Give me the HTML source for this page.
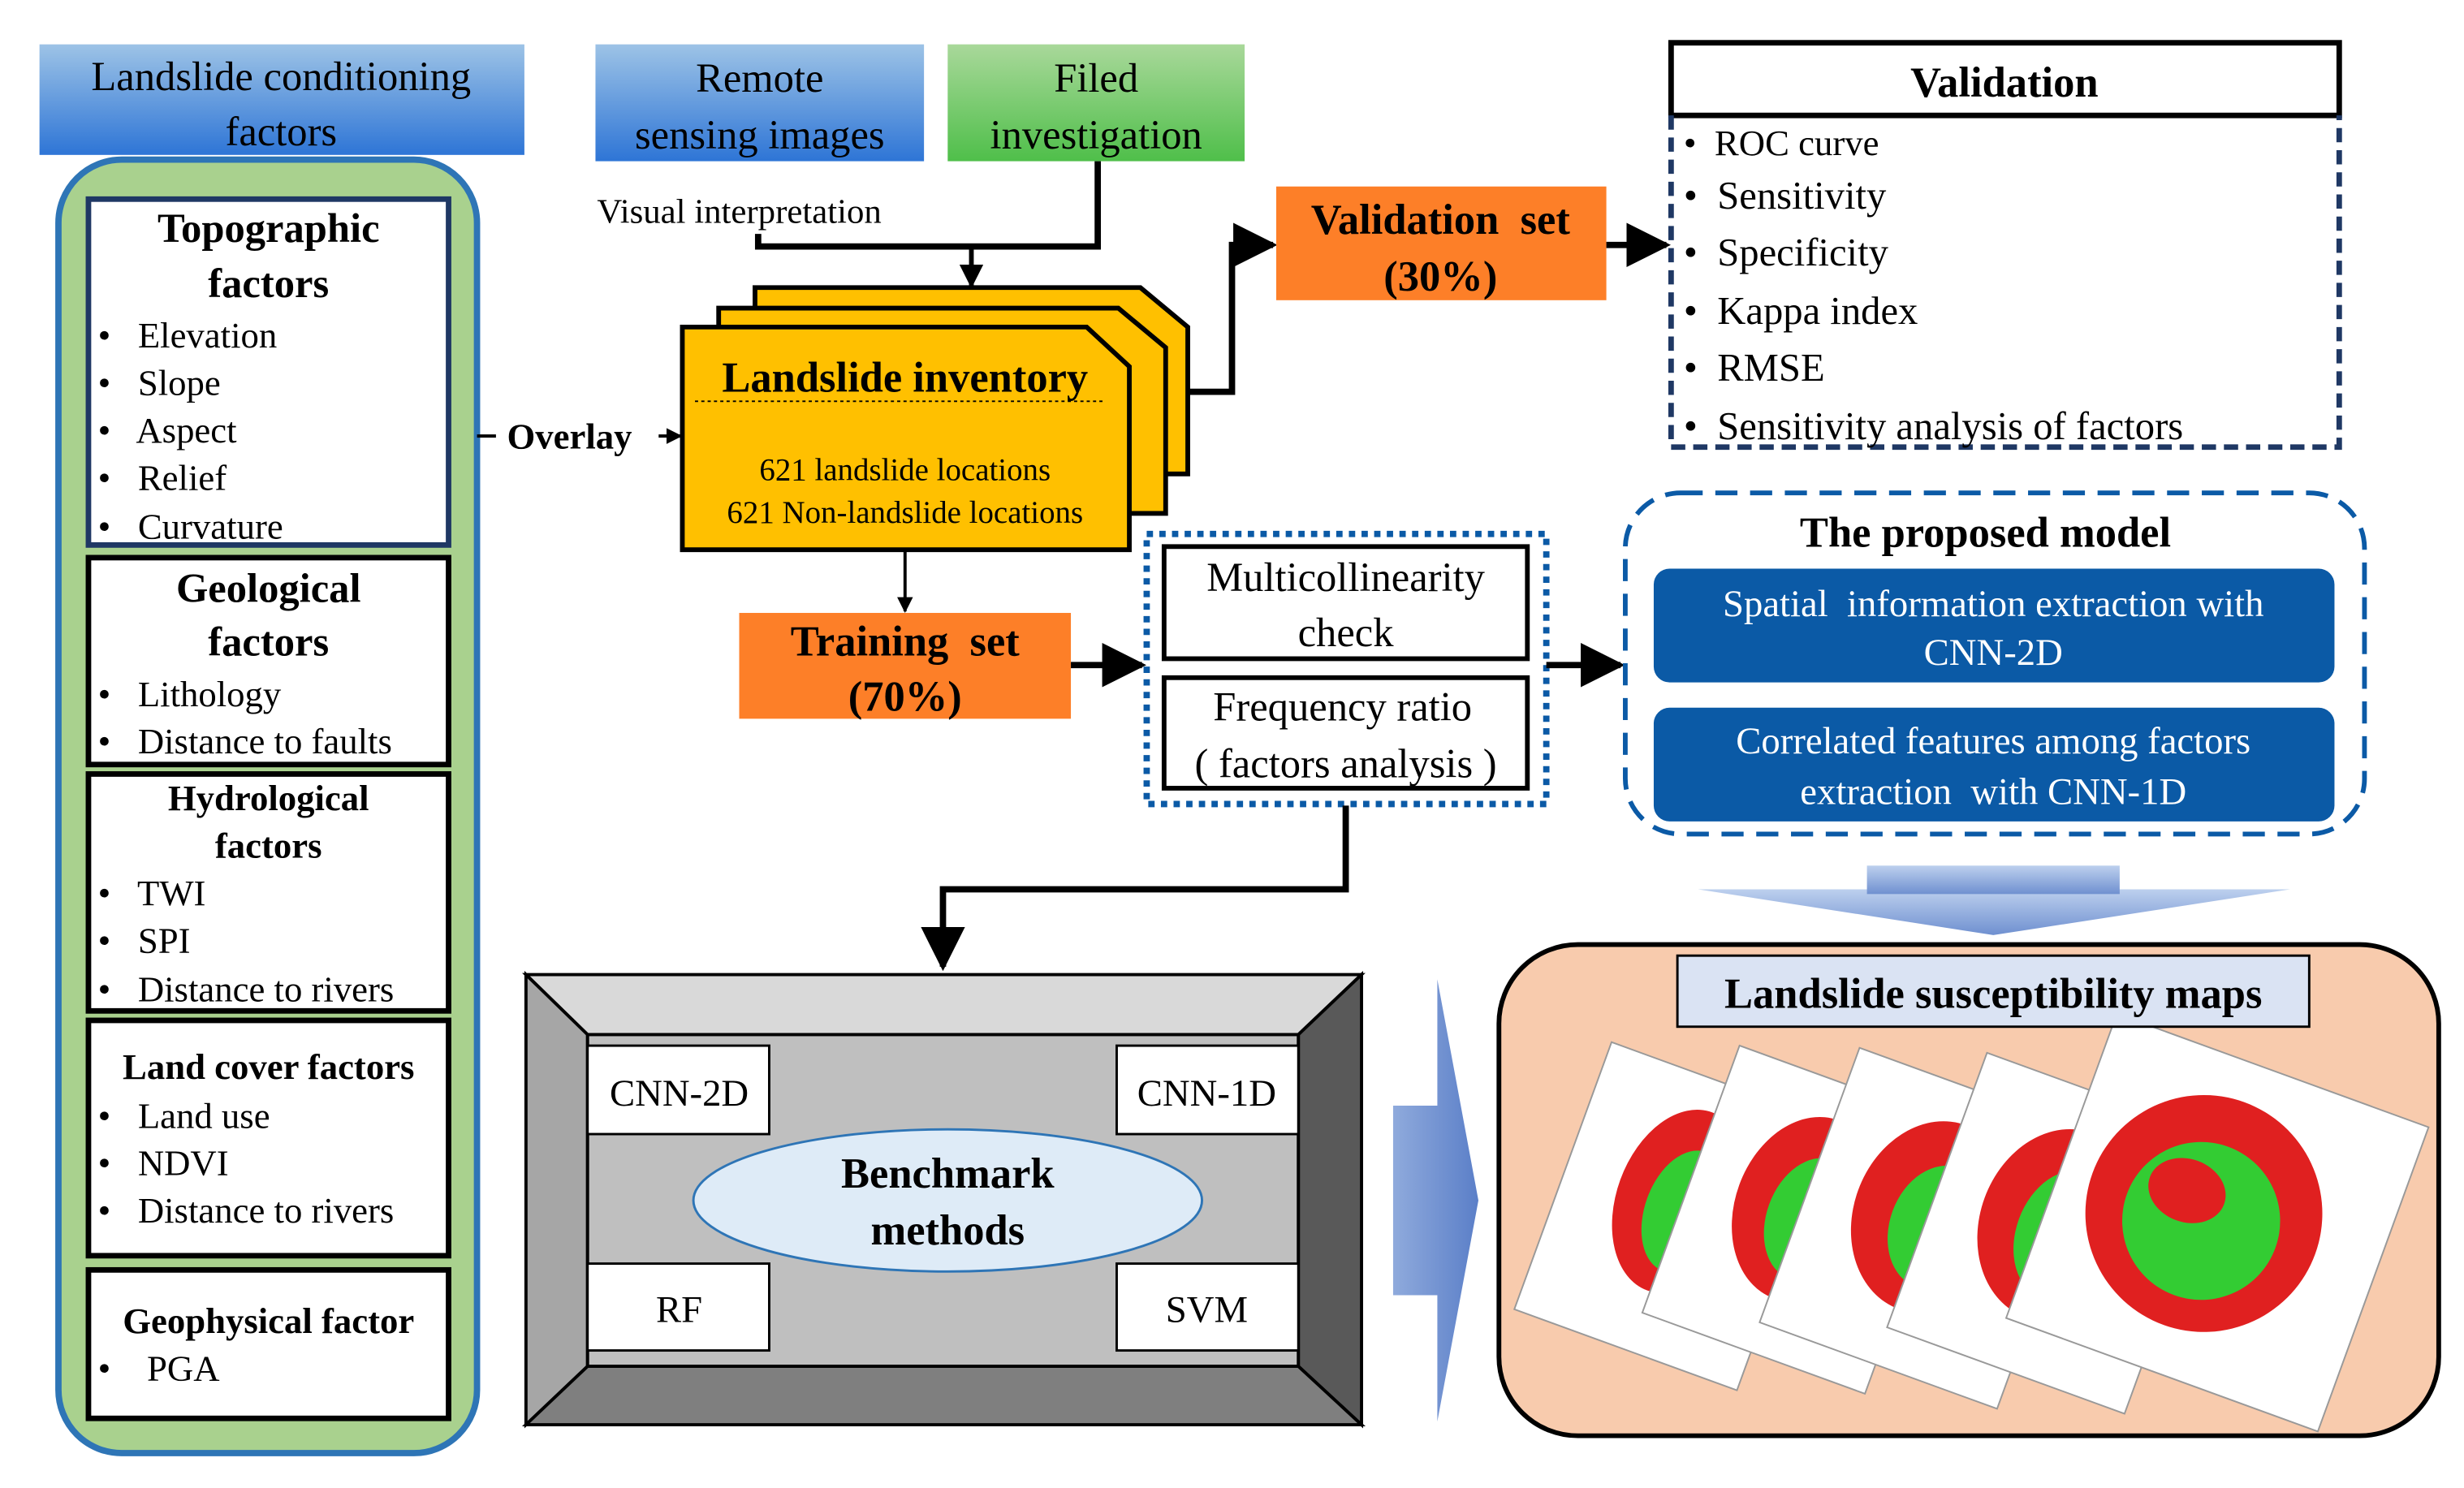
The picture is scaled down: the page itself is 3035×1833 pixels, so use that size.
<!DOCTYPE html>
<html><head><meta charset="utf-8"><style>
html,body{margin:0;padding:0;background:#fff;}
svg{display:block;}
text{font-family:"Liberation Serif",serif;fill:#000;white-space:pre;}
</style></head><body>
<svg width="3035" height="1833" viewBox="0 0 1560 942" xmlns="http://www.w3.org/2000/svg" xml:space="preserve">
<defs>
<linearGradient id="gb" x1="0" y1="0" x2="0" y2="1"><stop offset="0" stop-color="#9dc3e6"/><stop offset="1" stop-color="#2e75d6"/></linearGradient>
<linearGradient id="gg" x1="0" y1="0" x2="0" y2="1"><stop offset="0" stop-color="#a9d89a"/><stop offset="1" stop-color="#4fbf4a"/></linearGradient>
<linearGradient id="ga" x1="0" y1="0" x2="0" y2="1"><stop offset="0" stop-color="#bdd0ee"/><stop offset="1" stop-color="#6f90d0"/></linearGradient>
<linearGradient id="gr" x1="0" y1="0" x2="1" y2="0"><stop offset="0" stop-color="#8faadc"/><stop offset="1" stop-color="#5b7fc8"/></linearGradient>
<marker id="ar" viewBox="0 0 10 10" refX="9" refY="5" markerWidth="5" markerHeight="5" orient="auto"><path d="M0,0L10,5L0,10z" fill="#000"/></marker>
<marker id="as" viewBox="0 0 10 10" refX="9" refY="5" markerWidth="7" markerHeight="7" orient="auto"><path d="M0,0L10,5L0,10z" fill="#000"/></marker>
</defs>

<rect x="25" y="28" width="307" height="70" fill="url(#gb)"/>
<text x="178" y="57" font-size="26" text-anchor="middle">Landslide conditioning</text>
<text x="178" y="92" font-size="26" text-anchor="middle">factors</text>

<rect x="37" y="101" width="265" height="819" rx="40" fill="#a9d18e" stroke="#2e75b6" stroke-width="4"/>

<rect x="56" y="126" width="228" height="219" fill="#fff" stroke="#1f3864" stroke-width="3.5"/>
<text x="170" y="153" font-size="26" font-weight="bold" text-anchor="middle">Topographic</text>
<text x="170" y="188" font-size="26" font-weight="bold" text-anchor="middle">factors</text>
<g font-size="23"><text x="62" y="220">•   Elevation</text><text x="62" y="250">•   Slope</text><text x="62" y="280">•   Aspect</text><text x="62" y="310">•   Relief</text><text x="62" y="341">•   Curvature</text></g>

<rect x="56" y="353" width="228" height="131" fill="#fff" stroke="#000" stroke-width="3.5"/>
<text x="170" y="381" font-size="26" font-weight="bold" text-anchor="middle">Geological</text>
<text x="170" y="415" font-size="26" font-weight="bold" text-anchor="middle">factors</text>
<g font-size="23"><text x="62" y="447">•   Lithology</text><text x="62" y="477">•   Distance to faults</text></g>

<rect x="56" y="490" width="228" height="150" fill="#fff" stroke="#000" stroke-width="3.5"/>
<text x="170" y="513" font-size="23" font-weight="bold" text-anchor="middle">Hydrological</text>
<text x="170" y="543" font-size="23" font-weight="bold" text-anchor="middle">factors</text>
<g font-size="23"><text x="62" y="573">•   TWI</text><text x="62" y="603">•   SPI</text><text x="62" y="634">•   Distance to rivers</text></g>

<rect x="56" y="646" width="228" height="149" fill="#fff" stroke="#000" stroke-width="3.5"/>
<text x="170" y="683" font-size="23" font-weight="bold" text-anchor="middle">Land cover factors</text>
<g font-size="23"><text x="62" y="714">•   Land use</text><text x="62" y="744">•   NDVI</text><text x="62" y="774">•   Distance to rivers</text></g>

<rect x="56" y="804" width="228" height="94" fill="#fff" stroke="#000" stroke-width="3.5"/>
<text x="170" y="844" font-size="23" font-weight="bold" text-anchor="middle">Geophysical factor</text>
<text x="62" y="874" font-size="23">•    PGA</text>

<rect x="377" y="28" width="208" height="74" fill="url(#gb)"/>
<text x="481" y="58" font-size="26" text-anchor="middle">Remote</text>
<text x="481" y="94" font-size="26" text-anchor="middle">sensing images</text>
<rect x="600" y="28" width="188" height="74" fill="url(#gg)"/>
<text x="694" y="58" font-size="26" text-anchor="middle">Filed</text>
<text x="694" y="94" font-size="26" text-anchor="middle">investigation</text>
<text x="378" y="141" font-size="22">Visual interpretation</text>
<path d="M480,148V156H695V102" fill="none" stroke="#000" stroke-width="4"/>
<line x1="615" y1="156" x2="615" y2="181" stroke="#000" stroke-width="3" marker-end="url(#ar)"/>

<path d="M478,182H722L752,207V300H478Z" fill="#ffc000" stroke="#000" stroke-width="3"/>
<path d="M455,195H708L738,220V325H455Z" fill="#ffc000" stroke="#000" stroke-width="3"/>
<path d="M432,207H688L715,232V348H432Z" fill="#ffc000" stroke="#000" stroke-width="3"/>
<text x="573" y="248" font-size="27" font-weight="bold" text-anchor="middle">Landslide inventory</text>
<line x1="440" y1="254" x2="700" y2="254" stroke="#000" stroke-width="1" stroke-dasharray="2,2"/>
<text x="573" y="304" font-size="20" text-anchor="middle">621 landslide locations</text>
<text x="573" y="331" font-size="20" text-anchor="middle">621 Non-landslide locations</text>

<line x1="302" y1="276" x2="314" y2="276" stroke="#000" stroke-width="2"/>
<text x="321" y="284" font-size="23" font-weight="bold">Overlay</text>
<line x1="417" y1="276" x2="431" y2="276" stroke="#000" stroke-width="2" marker-end="url(#ar)"/>

<path d="M752,248H780V155H806" fill="none" stroke="#000" stroke-width="4" marker-end="url(#as)"/>
<rect x="808" y="118" width="209" height="72" fill="#fd7f28"/>
<text x="912" y="148" font-size="27" font-weight="bold" text-anchor="middle">Validation  set</text>
<text x="912" y="184" font-size="27" font-weight="bold" text-anchor="middle">(30%)</text>
<line x1="1017" y1="155" x2="1055" y2="155" stroke="#000" stroke-width="4" marker-end="url(#as)"/>

<rect x="1058" y="27" width="423" height="46" fill="#fff" stroke="#000" stroke-width="3.5"/>
<text x="1269" y="61" font-size="27" font-weight="bold" text-anchor="middle">Validation</text>
<path d="M1058,73V283H1481V73" fill="none" stroke="#1f3864" stroke-width="3.5" stroke-dasharray="9,5"/>
<g font-size="25"><text x="1066" y="98" font-size="23">•  ROC curve</text><text x="1066" y="132">•  Sensitivity</text><text x="1066" y="168">•  Specificity</text><text x="1066" y="205">•  Kappa index</text><text x="1066" y="241">•  RMSE</text><text x="1066" y="278">•  Sensitivity analysis of factors</text></g>

<line x1="573" y1="348" x2="573" y2="387" stroke="#000" stroke-width="2" marker-end="url(#ar)"/>
<rect x="468" y="388" width="210" height="67" fill="#fd7f28"/>
<text x="573" y="415" font-size="27" font-weight="bold" text-anchor="middle">Training  set</text>
<text x="573" y="450" font-size="27" font-weight="bold" text-anchor="middle">(70%)</text>
<line x1="678" y1="421" x2="723" y2="421" stroke="#000" stroke-width="4" marker-end="url(#as)"/>

<rect x="726" y="338" width="253" height="171" fill="#fff" stroke="#0b5aa6" stroke-width="4" stroke-dasharray="4,4"/>
<rect x="737" y="346" width="230" height="71" fill="#fff" stroke="#000" stroke-width="3"/>
<text x="852" y="374" font-size="26" text-anchor="middle">Multicollinearity</text>
<text x="852" y="409" font-size="26" text-anchor="middle">check</text>
<rect x="737" y="429" width="230" height="70" fill="#fff" stroke="#000" stroke-width="3"/>
<text x="850" y="456" font-size="26" text-anchor="middle">Frequency ratio</text>
<text x="852" y="492" font-size="26" text-anchor="middle">( factors analysis )</text>
<line x1="979" y1="421" x2="1026" y2="421" stroke="#000" stroke-width="4" marker-end="url(#as)"/>

<rect x="1029" y="312" width="468" height="216" rx="35" fill="#fff" stroke="#0b5aa6" stroke-width="3" stroke-dasharray="14,8"/>
<text x="1257" y="346" font-size="27" font-weight="bold" text-anchor="middle">The proposed model</text>
<rect x="1047" y="360" width="431" height="72" rx="10" fill="#0b5aa6"/>
<text x="1262" y="390" font-size="24" text-anchor="middle" style="fill:#fff">Spatial  information extraction with</text>
<text x="1262" y="421" font-size="24" text-anchor="middle" style="fill:#fff">CNN-2D</text>
<rect x="1047" y="448" width="431" height="72" rx="10" fill="#0b5aa6"/>
<text x="1262" y="477" font-size="24" text-anchor="middle" style="fill:#fff">Correlated features among factors</text>
<text x="1262" y="509" font-size="24" text-anchor="middle" style="fill:#fff">extraction  with CNN-1D</text>

<path d="M1075,563H1450L1262,592Z" fill="url(#ga)"/>
<rect x="1182" y="548" width="160" height="18" fill="url(#ga)"/>

<path d="M852,510V563H597V612" fill="none" stroke="#000" stroke-width="4" marker-end="url(#as)"/>

<polygon points="333,617 862,617 822,655 372,655" fill="#d9d9d9" stroke="#000" stroke-width="2"/>
<polygon points="333,617 372,655 372,865 333,902" fill="#a6a6a6" stroke="#000" stroke-width="2"/>
<polygon points="862,617 822,655 822,865 862,902" fill="#595959" stroke="#000" stroke-width="2"/>
<polygon points="333,902 372,865 822,865 862,902" fill="#7f7f7f" stroke="#000" stroke-width="2"/>
<rect x="372" y="655" width="450" height="210" fill="#bfbfbf" stroke="#000" stroke-width="2"/>
<rect x="372" y="662" width="115" height="56" fill="#fff" stroke="#000" stroke-width="1.5"/>
<text x="430" y="700" font-size="24" text-anchor="middle">CNN-2D</text>
<rect x="707" y="662" width="115" height="56" fill="#fff" stroke="#000" stroke-width="1.5"/>
<text x="764" y="700" font-size="24" text-anchor="middle">CNN-1D</text>
<rect x="372" y="800" width="115" height="55" fill="#fff" stroke="#000" stroke-width="1.5"/>
<text x="430" y="837" font-size="24" text-anchor="middle">RF</text>
<rect x="707" y="800" width="115" height="55" fill="#fff" stroke="#000" stroke-width="1.5"/>
<text x="764" y="837" font-size="24" text-anchor="middle">SVM</text>
<ellipse cx="600" cy="760" rx="161" ry="45" fill="#deebf7" stroke="#2e75b6" stroke-width="1.5"/>
<text x="600" y="752" font-size="27" font-weight="bold" text-anchor="middle">Benchmark</text>
<text x="600" y="788" font-size="27" font-weight="bold" text-anchor="middle">methods</text>

<polygon points="882,700 910,700 910,620 936,760 910,900 910,820 882,820" fill="url(#gr)"/>

<rect x="949" y="598" width="595" height="311" rx="50" fill="#f8cbad" stroke="#000" stroke-width="3"/>
<g>
<g transform="rotate(20 1060 770)"><rect x="985" y="680" width="150" height="180" fill="#fff" stroke="#999"/><ellipse cx="1060" cy="760" rx="40" ry="60" fill="#e02020"/><ellipse cx="1065" cy="765" rx="25" ry="40" fill="#33cc33"/></g>
<g transform="rotate(20 1140 775)"><rect x="1065" y="682" width="150" height="180" fill="#fff" stroke="#999"/><ellipse cx="1140" cy="765" rx="45" ry="60" fill="#e02020"/><ellipse cx="1145" cy="770" rx="28" ry="40" fill="#33cc33"/></g>
<g transform="rotate(20 1220 780)"><rect x="1140" y="685" width="160" height="185" fill="#fff" stroke="#999"/><ellipse cx="1220" cy="770" rx="50" ry="62" fill="#e02020"/><ellipse cx="1225" cy="775" rx="30" ry="40" fill="#33cc33"/></g>
<g transform="rotate(20 1300 785)"><rect x="1220" y="688" width="160" height="185" fill="#fff" stroke="#999"/><ellipse cx="1300" cy="775" rx="50" ry="62" fill="#e02020"/><ellipse cx="1305" cy="780" rx="30" ry="42" fill="#33cc33"/></g>
<g transform="rotate(20 1400 770)"><rect x="1300" y="670" width="210" height="205" fill="#fff" stroke="#999"/><ellipse cx="1395" cy="770" rx="75" ry="75" fill="#e02020"/><ellipse cx="1395" cy="775" rx="50" ry="50" fill="#33cc33"/><ellipse cx="1380" cy="760" rx="25" ry="20" fill="#e02020"/></g>
</g>
<rect x="1062" y="605" width="400" height="45" fill="#dae3f3" stroke="#000" stroke-width="1.5"/>
<text x="1262" y="638" font-size="27" font-weight="bold" text-anchor="middle">Landslide susceptibility maps</text>
</svg>
</body></html>
